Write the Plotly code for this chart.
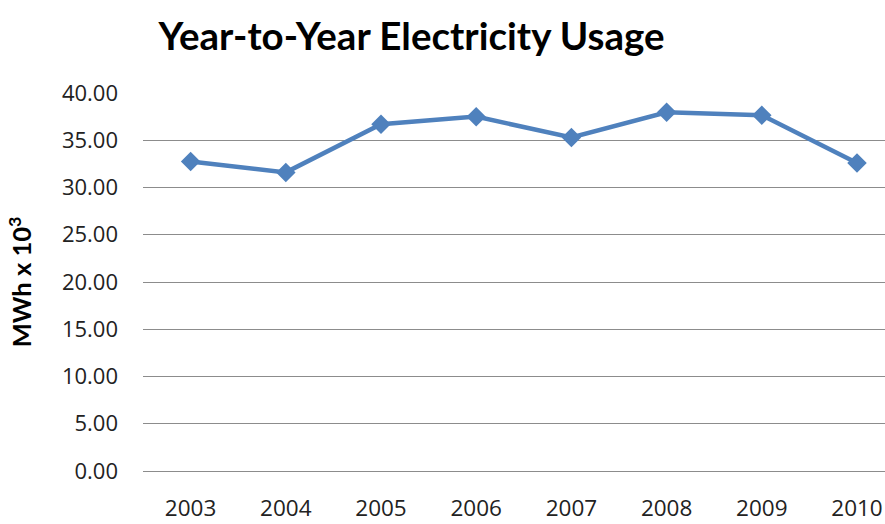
import plotly.graph_objects as go

# Annual electricity usage, MWh x 10^3
years = ["2003", "2004", "2005", "2006", "2007", "2008", "2009", "2010"]
usage = [32.75, 31.6, 36.7, 37.5, 35.3, 37.95, 37.65, 32.6]

y_ticks = [0, 5, 10, 15, 20, 25, 30, 35, 40]

fig = go.Figure()
fig.add_trace(go.Scatter(
    x=list(range(len(years))),
    y=usage,
    mode="lines+markers",
    line=dict(color="#4f81bd", width=4.5),
    marker=dict(symbol="diamond", size=15, color="#4f81bd"),
    showlegend=False,
))

fig.update_layout(
    width=885,
    height=524,
    margin=dict(l=143, r=0, t=93, b=53, autoexpand=False),
    paper_bgcolor="white",
    plot_bgcolor="white",
    title=dict(
        text="<b>Year-to-Year Electricity Usage</b>",
        font=dict(family="Lato", size=38.5, color="black"),
        x=0.465, xanchor="center",
        y=1 - 37 / 524, yanchor="middle",
    ),
    xaxis=dict(
        range=[-0.5, 7.294],
        tickmode="array",
        tickvals=list(range(len(years))),
        ticktext=years,
        showgrid=False,
        zeroline=False,
        showline=False,
        ticks="",
        automargin=False,
        ticklabelstandoff=21,
        tickfont=dict(family="Open Sans", size=22.5, color="#222222"),
    ),
    yaxis=dict(
        range=[0, 40],
        tickvals=y_ticks,
        tickformat=".2f",
        showgrid=True,
        gridcolor="#8c8c8c",
        gridwidth=1,
        zeroline=True,
        zerolinecolor="#8c8c8c",
        zerolinewidth=1,
        showline=False,
        ticks="",
        automargin=False,
        ticklabelstandoff=24,
        tickfont=dict(family="Open Sans", size=22, color="#222222"),
        title=dict(
            text="<b>MWh x 10<sup>3</sup></b>",
            font=dict(family="Lato", size=25.5, color="black"),
            standoff=22,
        ),
    ),
)

fig.write_html("out.html")
